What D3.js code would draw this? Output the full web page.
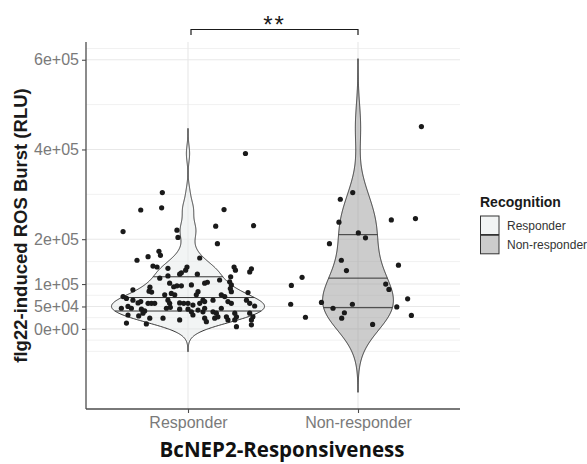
<!DOCTYPE html>
<html>
<head>
<meta charset="utf-8">
<script src="https://cdn.jsdelivr.net/npm/d3@7"></script>
<style>
  body { margin: 0; background: #fff; }
</style>
</head>
<body>
<div id="stage"></div>
<script>
// categories on the x axis
var categories = ["Responder", "Non-responder"];

// ROS burst values (thousands of RLU) and horizontal jitter (category units)
var resp_values = [391, 304, 265, 270, 266, 217, 220, 204, 229, 230, 190, 173, 164, 161, 153, 158,
  140, 138, 135, 138, 131, 125, 122, 118, 113, 122, 138, 131, 127, 134, 116, 109, 105, 98, 102,
  104, 98, 102, 94, 96, 96, 93, 87, 84, 82, 79, 76, 76, 90, 83, 81, 83, 76, 76, 72, 72, 68, 64,
  58, 61, 57, 57, 57, 64, 57, 58, 57, 57, 64, 64, 61, 53, 57, 61, 57, 64, 57, 51, 46, 50, 46, 44,
  40, 35, 46, 48, 44, 44, 38, 42, 38, 46, 46, 38, 35, 27, 24, 27, 20, 35, 27, 20, 35, 27, 20, 31,
  24, 16, 5, 9, 31, 29, 24, 24, 20, 13, 11];
var resp_jitter = [0.338, -0.151, -0.278, -0.155, 0.212, -0.382, -0.065, -0.059, 0.163, 0.386,
  0.173, -0.171, -0.162, -0.235, -0.300, 0.069, -0.206, -0.182, -0.118, -0.006, -0.014, -0.039,
  -0.049, -0.118, -0.166, 0.055, 0.271, 0.279, 0.363, 0.373, 0.251, 0.186, 0.245, 0.255, 0.098,
  0.114, 0.020, -0.108, -0.084, -0.065, -0.039, -0.224, -0.324, -0.229, -0.214, -0.098, -0.078,
  -0.137, 0.249, 0.255, 0.353, 0.059, 0.049, 0.196, 0.216, -0.382, -0.362, -0.324, -0.294, -0.278,
  -0.235, -0.215, -0.196, -0.118, -0.108, -0.049, -0.025, 0.000, 0.147, 0.088, 0.098, 0.029, 0.069,
  0.235, 0.255, 0.344, 0.363, 0.392, -0.392, -0.353, -0.333, -0.274, -0.255, -0.265, -0.127, -0.104,
  -0.049, 0.000, 0.020, 0.059, 0.088, 0.098, 0.196, 0.147, 0.167, 0.176, 0.157, 0.226, 0.235, 0.275,
  0.285, 0.275, 0.363, 0.382, 0.373, 0.029, 0.098, 0.108, 0.285, 0.373, -0.353, -0.290, -0.225,
  -0.147, -0.049, -0.362, -0.245];
var nonresp_values = [451, 304, 289, 238, 243, 246, 214, 203, 190, 153, 130, 142, 115, 97, 100, 88,
  67, 55, 59, 55, 46, 49, 26, 36, 24, 30, 10];
var nonresp_jitter = [0.373, -0.031, -0.104, -0.112, 0.196, 0.338, 0.002, 0.044, -0.168, -0.098,
  -0.068, 0.238, -0.329, -0.392, 0.163, 0.182, 0.292, -0.396, -0.215, -0.033, -0.147, 0.228, -0.309,
  -0.080, -0.096, 0.314, 0.086];

// y axis breaks
var y_ticks = [0, 5e4, 1e5, 2e5, 4e5, 6e5];
var y_tick_labels = ["0e+00", "5e+04", "1e+05", "2e+05", "4e+05", "6e+05"];
var y_minor = [-5e4, -2.5e4, 2.5e4, 7.5e4, 1.5e5, 3e5, 5e5, 6.25e5];
var quantile_probs = [0.25, 0.5, 0.75];
var signif_label = "**";

var stage_width = 587;
var stage_height = 464;
var panel = { left: 86, right: 460, top: 42, bottom: 409 };
var fills = { "Responder": "#e6eaea", "Non-responder": "#999999" };

build_scene();

function bw_nrd0(x) {
  var sorted = x.slice().sort(d3.ascending);
  var hi = d3.deviation(x);
  var iqr = d3.quantileSorted(sorted, 0.75) - d3.quantileSorted(sorted, 0.25);
  var lo = Math.min(hi, iqr / 1.34);
  return 0.9 * lo * Math.pow(x.length, -0.2);
}

// gaussian kernel density, untrimmed (3 bandwidths past the data) like geom_violin
function ydensity(x) {
  var bw = bw_nrd0(x);
  var from = d3.min(x) - 3 * bw, to = d3.max(x) + 3 * bw;
  var n = 512, out = [];
  var norm = x.length * bw * Math.sqrt(2 * Math.PI);
  for (var i = 0; i < n; i++) {
    var y = from + (to - from) * i / (n - 1);
    var s = 0;
    x.forEach(function(v) {
      var u = (y - v) / bw;
      s += Math.exp(-0.5 * u * u);
    });
    out.push({ y: y, density: s / norm });
  }
  return out;
}

function density_quantiles(dens, probs) {
  var total = d3.sum(dens, function(d) { return d.density; });
  var cum = 0, cdf = dens.map(function(d) { cum += d.density; return cum / total; });
  return probs.map(function(p) {
    var i = d3.bisectLeft(cdf, p);
    if (i <= 0) return dens[0];
    var t = (p - cdf[i - 1]) / (cdf[i] - cdf[i - 1]);
    var y = dens[i - 1].y + t * (dens[i].y - dens[i - 1].y);
    var w = dens[i - 1].density + t * (dens[i].density - dens[i - 1].density);
    return { y: y, density: w };
  });
}

function build_scene() {
  var groups = [
    { name: categories[0], values: resp_values.map(function(v) { return v * 1000; }), jitter: resp_jitter },
    { name: categories[1], values: nonresp_values.map(function(v) { return v * 1000; }), jitter: nonresp_jitter }
  ];
  groups.forEach(function(g) {
    g.dens = ydensity(g.values);
    g.quant = density_quantiles(g.dens, quantile_probs);
  });
  var max_dens = d3.max(groups, function(g) { return d3.max(g.dens, function(d) { return d.density; }); });
  var lo = d3.min(groups, function(g) { return g.dens[0].y; });
  var hi = d3.max(groups, function(g) { return g.dens[g.dens.length - 1].y; });
  var pad = (hi - lo) * 0.05;

  var x = d3.scalePoint().domain(categories).range([panel.left, panel.right]).padding(0.6);
  var y = d3.scaleLinear().domain([lo - pad, hi + pad]).range([panel.bottom, panel.top]);
  var half = x.step() * 0.45;
  var w = d3.scaleLinear().domain([0, max_dens]).range([0, half]);

  var svg = d3.select("#stage").append("svg")
    .attr("width", stage_width)
    .attr("height", stage_height)
    .style("font-family", "'Liberation Sans', Arial, sans-serif");

  // grid
  svg.append("g").selectAll("line").data(y_minor).enter().append("line")
    .attr("x1", panel.left).attr("x2", panel.right)
    .attr("y1", function(d) { return y(d); }).attr("y2", function(d) { return y(d); })
    .attr("stroke", "#f1f1f1").attr("stroke-width", 1);
  svg.append("g").selectAll("line").data(y_ticks).enter().append("line")
    .attr("x1", panel.left).attr("x2", panel.right)
    .attr("y1", function(d) { return y(d); }).attr("y2", function(d) { return y(d); })
    .attr("stroke", "#e8e8e8").attr("stroke-width", 1.1);
  svg.append("g").selectAll("line").data(categories).enter().append("line")
    .attr("x1", function(d) { return x(d); }).attr("x2", function(d) { return x(d); })
    .attr("y1", panel.top).attr("y2", panel.bottom)
    .attr("stroke", "#e8e8e8").attr("stroke-width", 1.1);

  // violins
  var area = d3.area()
    .y(function(d) { return y(d.y); });
  groups.forEach(function(g) {
    var cx = x(g.name);
    area.x0(function(d) { return cx - w(d.density); })
      .x1(function(d) { return cx + w(d.density); });
    svg.append("path")
      .datum(g.dens)
      .attr("d", area)
      .attr("fill", fills[g.name])
      .attr("fill-opacity", 0.5)
      .attr("stroke", "#333")
      .attr("stroke-width", 1);
    svg.append("g").selectAll("line").data(g.quant).enter().append("line")
      .attr("x1", function(d) { return cx - w(d.density); })
      .attr("x2", function(d) { return cx + w(d.density); })
      .attr("y1", function(d) { return y(d.y); })
      .attr("y2", function(d) { return y(d.y); })
      .attr("stroke", "#333")
      .attr("stroke-width", 1);
  });

  // jittered points
  groups.forEach(function(g) {
    svg.append("g").selectAll("circle").data(g.values).enter().append("circle")
      .attr("cx", function(d, i) { return x(g.name) + g.jitter[i] * x.step(); })
      .attr("cy", function(d) { return y(d); })
      .attr("r", 2.6)
      .attr("fill", "#1a1a1a");
  });

  // axes
  var yAxis = svg.append("g")
    .attr("transform", "translate(" + panel.left + ",0)")
    .call(d3.axisLeft(y).tickValues(y_ticks).tickSize(4).tickPadding(3)
      .tickFormat(function(d, i) { return y_tick_labels[i]; }));
  yAxis.select(".domain").attr("d", "M0," + panel.top + "V" + panel.bottom);
  var xAxis = svg.append("g")
    .attr("transform", "translate(0," + panel.bottom + ")")
    .call(d3.axisBottom(x).tickSize(4).tickPadding(4));
  xAxis.select(".domain").attr("d", "M" + panel.left + ",0H" + panel.right);
  svg.selectAll(".domain").attr("stroke", "#4d4d4d").attr("stroke-width", 1.3);
  svg.selectAll(".tick line").attr("stroke", "#4d4d4d").attr("stroke-width", 1.1);
  svg.selectAll(".tick text")
    .attr("fill", "#7a7a7a")
    .style("font-size", "16px")
    .style("font-family", "'Liberation Sans', Arial, sans-serif");

  // axis titles
  svg.append("text")
    .attr("transform", "translate(27," + (panel.top + panel.bottom) / 2 + ") rotate(-90)")
    .attr("text-anchor", "middle")
    .attr("fill", "#1a1a1a")
    .style("font-size", "18.5px")
    .style("font-weight", "bold")
    .text("flg22-induced ROS Burst (RLU)");
  svg.append("text")
    .attr("x", 282)
    .attr("y", 457)
    .attr("text-anchor", "middle")
    .attr("fill", "#111")
    .style("font-family", "'Open Sans', 'Noto Sans', sans-serif")
    .style("font-size", "20.5px")
    .style("font-weight", "bold")
    .text("BcNEP2-Responsiveness");

  // significance bracket
  var bx0 = x(categories[0]) + 3, bx1 = x(categories[1]);
  svg.append("path")
    .attr("d", "M" + bx0 + ",35V29.5H" + bx1 + "V35")
    .attr("fill", "none")
    .attr("stroke", "#1a1a1a")
    .attr("stroke-width", 1.2);
  svg.append("text")
    .attr("x", (bx0 + bx1) / 2)
    .attr("y", 33)
    .attr("text-anchor", "middle")
    .attr("fill", "#1a1a1a")
    .style("font-size", "24px")
    .style("letter-spacing", "2px")
    .text(signif_label);

  // legend
  var legend = svg.append("g").attr("transform", "translate(480,0)");
  legend.append("text")
    .attr("x", 0).attr("y", 207)
    .attr("fill", "#1a1a1a")
    .style("font-size", "14px")
    .style("font-weight", "bold")
    .text("Recognition");
  var key = legend.selectAll("g.key").data(categories).enter().append("g")
    .attr("class", "key")
    .attr("transform", function(d, i) { return "translate(0," + (215.5 + i * 19.3) + ")"; });
  key.append("rect")
    .attr("x", 0.5).attr("y", 0.5)
    .attr("width", 18.5).attr("height", 18.5)
    .attr("fill", function(d) { return fills[d]; })
    .attr("fill-opacity", 0.5)
    .attr("stroke", "#333")
    .attr("stroke-width", 1);
  key.append("text")
    .attr("x", 27).attr("y", 14.5)
    .attr("fill", "#333")
    .style("font-size", "12px")
    .text(function(d) { return d; });
}
</script>
</body>
</html>
